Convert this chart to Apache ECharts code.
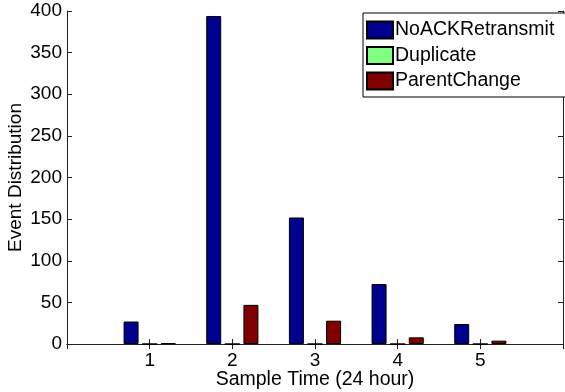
<!DOCTYPE html>
<html>
<head>
<meta charset="utf-8">
<script src="https://cdn.jsdelivr.net/npm/echarts@6/dist/echarts.min.js"></script>
<style>
html, body { margin: 0; padding: 0; background: #fff; }
#chart { width: 565px; height: 392px; }
</style>
</head>
<body>
<div id="chart"></div>
<script>
// x positions 0..6, only 1..5 are samples
var categories = ['', '1', '2', '3', '4', '5', ''];
var noAck = [null, 27, 394, 152, 72, 24, null];
var duplicate = [null, 0, 0, 0, 0, 0, null];
var parentChange = [null, 1, 47, 28, 8, 4, null];
var yTicks = { min: 0, max: 400, interval: 50 };

var font = 'Liberation Sans, Arial, sans-serif';
var chart = echarts.init(document.getElementById('chart'));

function bar(name, data, color) {
    return {
        name: name,
        type: 'bar',
        data: data,
        barWidth: 15,
        barGap: '24%',
        itemStyle: { color: color, borderColor: '#000', borderWidth: 1 },
        emphasis: { disabled: true }
    };
}

var tickStyle = { show: true, inside: true, length: 5, lineStyle: { color: '#222' } };
var lineStyle = { show: true, lineStyle: { color: '#222', width: 1 } };

chart.setOption({
    animation: false,
    grid: { left: 67, top: 11, right: 2, bottom: 48, outerBoundsMode: 'none', containLabel: false },
    legend: {
        orient: 'vertical',
        left: 363,
        top: 13,
        padding: [7, 20, 6, 3],
        icon: 'rect',
        itemWidth: 26,
        itemHeight: 17,
        itemGap: 5.5,
        borderColor: '#000',
        borderWidth: 1,
        backgroundColor: '#fff',
        textStyle: { fontFamily: font, fontSize: 19.5, color: '#000', lineHeight: 17, padding: [0, 0, 0, -3] },
        data: ['NoACKRetransmit', 'Duplicate', 'ParentChange']
    },
    xAxis: [{
        type: 'category',
        data: categories,
        boundaryGap: false,
        name: 'Sample Time (24 hour)',
        nameLocation: 'middle',
        nameGap: 26,
        nameMoveOverlap: false,
        nameTextStyle: { fontFamily: font, fontSize: 19.5, color: '#000' },
        axisLine: lineStyle,
        axisTick: Object.assign({ interval: 0 }, tickStyle),
        axisLabel: { interval: 0, margin: 7, fontFamily: font, fontSize: 19, color: '#000' },
        splitLine: { show: false }
    }, {
        type: 'category',
        data: categories,
        boundaryGap: false,
        position: 'top',
        axisLine: lineStyle,
        axisTick: Object.assign({ interval: 0 }, tickStyle),
        axisLabel: { show: false },
        splitLine: { show: false }
    }],
    yAxis: [{
        type: 'value',
        min: yTicks.min,
        max: yTicks.max,
        interval: yTicks.interval,
        name: 'Event Distribution',
        nameLocation: 'middle',
        nameGap: 42,
        nameMoveOverlap: false,
        nameTextStyle: { fontFamily: font, fontSize: 19, color: '#000' },
        axisLine: lineStyle,
        axisTick: tickStyle,
        axisLabel: { margin: 5, fontFamily: font, fontSize: 19, color: '#000' },
        splitLine: { show: false }
    }, {
        type: 'value',
        min: yTicks.min,
        max: yTicks.max,
        interval: yTicks.interval,
        position: 'right',
        axisLine: lineStyle,
        axisTick: tickStyle,
        axisLabel: { show: false },
        splitLine: { show: false }
    }],
    series: [
        bar('NoACKRetransmit', noAck, '#00008f'),
        bar('Duplicate', duplicate, '#80ff80'),
        bar('ParentChange', parentChange, '#800000')
    ]
});
</script>
</body>
</html>
